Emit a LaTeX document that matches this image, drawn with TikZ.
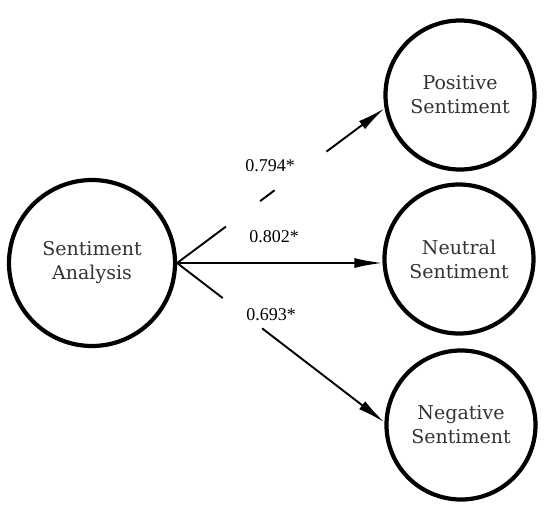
\documentclass[tikz,border=0pt]{standalone}
\usepackage{fontspec}
\setmainfont{Liberation Serif}
\newfontfamily\conceptfont{DejaVu Serif}
\usetikzlibrary{arrows.meta,calc}

\tikzset{
  concept/.style={draw,circle,line width=4.2pt,align=center,inner sep=0pt,
    font=\conceptfont\fontsize{19}{24}\selectfont,text=black!80},
  link/.style={line width=1.9pt},
  weight/.style={font=\fontsize{18}{20}\selectfont}
}

\begin{document}
\begin{tikzpicture}[x=1pt,y=-1pt,>={Latex[length=28pt,width=10pt]}]
        \useasboundingbox (0,0) rectangle (550,507);

        \node[concept,minimum size=166pt] (analysis) at (92,263)
              {Sentiment\\Analysis};
        \node[concept,minimum size=149pt] (positive) at (460,95)
              {Positive\\Sentiment};
        \node[concept,minimum size=149pt] (neutral) at (459,259)
              {Neutral\\Sentiment};
        \node[concept,minimum size=149pt] (negative) at (461,425)
              {Negative\\Sentiment};

        \node[weight] (wpos) at (270,166) {0.794*};
        \node[weight] (wneu) at (274,237) {0.802*};
        \node[weight] (wneg) at (271,315) {0.693*};

        % broken path to the positive circle
        \draw[link] (analysis.east) -- ($(analysis.east)!0.235!(positive.190)$);
        \draw[link] ($(analysis.east)!0.40!(positive.190)$)
              -- ($(analysis.east)!0.47!(positive.190)$);
        \draw[link,->] ($(analysis.east)!0.72!(positive.190)$) -- (positive.190);

        \draw[link,->] (analysis.east) -- (neutral.west |- analysis.east);

        \draw[link] (analysis.east) -- ($(analysis.east)!0.22!(negative.178)$);
        \draw[link,->] ($(analysis.east)!0.41!(negative.178)$) -- (negative.178);
    \end{tikzpicture}
\end{document}
